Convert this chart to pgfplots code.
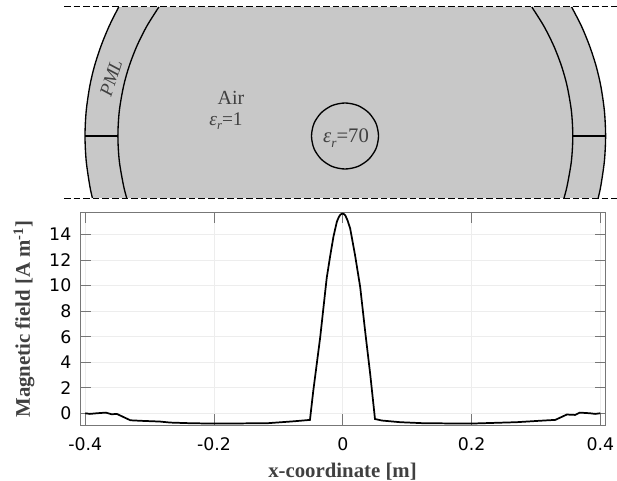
\documentclass[border=0pt]{standalone}
\usepackage{fontspec}
\setmainfont{Liberation Serif}
\newfontfamily\ticksfont{DejaVu Sans}
\usepackage{pgfplots}
\pgfplotsset{compat=1.18}
\definecolor{domain}{HTML}{C8C8C8}
\definecolor{labelgray}{HTML}{404040}
\definecolor{framegray}{HTML}{777777}
\definecolor{gridgray}{HTML}{EDEDED}
\begin{document}
\begin{tikzpicture}
% page size: 617x481 px at 0.75pt per px
\path[use as bounding box] (0pt,0pt) rectangle (462.75pt,360.75pt);
% schematic on top, in pixel coordinates of the page
\begin{axis}[
    at={(0pt,0pt)}, anchor=south west,
    scale only axis, width=462.75pt, height=360.75pt,
    xmin=0, xmax=617, ymin=0, ymax=481, y dir=reverse,
    axis lines=none, clip=false,
]
\addplot[fill=domain, draw=none] coordinates {
    (118.7,7) (109.2,26) (101,46) (94.5,66) (89.8,86) (86.2,111) (85,136) (86.2,161) (89.8,186) (92.4,198)
    (598.2,198) (600.8,186) (604.4,161) (605.6,136) (604.4,111) (600.8,86) (596.1,66) (589.6,46) (581.4,26) (571.6,7)
} -- cycle;
\addplot[black, line width=1pt, smooth] coordinates {
    (118.7,7) (109.2,26) (101,46) (94.5,66) (89.8,86) (86.2,111) (85,136) (86.2,161) (89.8,186) (92.4,198)};
\addplot[black, line width=1pt, smooth] coordinates {
    (158.9,7) (146.9,26) (136.9,46) (129.2,66) (123.6,86) (119.3,111) (117.9,136) (119.3,161) (123.6,186) (126.7,198)};
\addplot[black, line width=1pt, smooth] coordinates {
    (531.8,7) (543.8,26) (553.8,46) (561.5,66) (567.1,86) (571.4,111) (572.8,136) (571.4,161) (567.1,186) (564,198)};
\addplot[black, line width=1pt, smooth] coordinates {
    (571.6,7) (581.4,26) (589.6,46) (596.1,66) (600.8,86) (604.4,111) (605.6,136) (604.4,161) (600.8,186) (598.2,198)};
\addplot[black, line width=1pt] coordinates {(85,136) (117.9,136)};
\addplot[black, line width=1pt] coordinates {(572.8,136) (605.6,136)};
\addplot[black, line width=1pt, smooth cycle] coordinates {
    (378.5,136) (376,123.4) (368.7,112.7) (357.8,105.5) (345,103) (332.2,105.5) (321.3,112.7) (314,123.4)
    (311.5,136) (314,148.6) (321.3,159.3) (332.2,166.5) (345,169) (357.8,166.5) (368.7,159.3) (376,148.6)};
\addplot[black, line width=0.75pt, dash pattern=on 5pt off 2.2pt] coordinates {(64,7) (617,7)};
\addplot[black, line width=0.75pt, dash pattern=on 5pt off 2.2pt] coordinates {(64,198) (617,198)};
\node[labelgray, rotate=72, inner sep=0pt, font=\fontsize{14}{15}\selectfont\itshape] at (axis cs:111,78) {PML};
\node[labelgray, font=\fontsize{15}{16}\selectfont] at (axis cs:231,98) {Air};
\node[labelgray, font=\fontsize{14.5}{16}\selectfont] at (axis cs:226,121.5) {\textit{ε}\raisebox{-0.45ex}{\fontsize{9.5}{10}\selectfont\textit{r}}=1};
\node[labelgray, font=\fontsize{15.5}{16}\selectfont] at (axis cs:346,138) {\textit{ε}\raisebox{-0.45ex}{\fontsize{10}{10}\selectfont\textit{r}}=70};
% axis titles of the plot below
\node[labelgray, font=\fontsize{15.6}{18}\selectfont\bfseries] at (axis cs:342.5,471.5) {x-coordinate [m]};
\node[labelgray, rotate=90, font=\fontsize{15.6}{18}\selectfont\bfseries] at (axis cs:24,319) {Magnetic field [A m\textsuperscript{-1}]};
\end{axis}
% field profile
\begin{axis}[
    at={(60pt,42pt)}, anchor=south west,
    scale only axis, width=394.3pt, height=159.5pt,
    xmin=-0.4082, xmax=0.4084, ymin=-0.92, ymax=15.75,
    xtick={-0.4,-0.2,0,0.2,0.4},
    xticklabels={-0.4,-0.2,0,0.2,0.4},
    ytick={0,2,4,6,8,10,12,14},
    yticklabels={0,2,4,6,8,10,12,14},
    grid=major,
    grid style={gridgray, line width=0.6pt},
    axis line style={framegray, line width=0.7pt},
    major tick length=8pt,
    tick style={framegray, line width=0.6pt},
    tick align=inside,
    ticklabel style={font=\ticksfont\fontsize{13}{15}\selectfont},
    xticklabel style={yshift=-6pt},
    yticklabel style={xshift=-3pt},
]
\addplot[black, line width=1.3pt] coordinates {
    (-0.400,0) (-0.393,-0.05) (-0.382,0) (-0.368,0.05) (-0.359,-0.08) (-0.351,-0.05)
    (-0.330,-0.55) (-0.310,-0.60) (-0.284,-0.65) (-0.268,-0.73) (-0.237,-0.78) (-0.200,-0.81)
    (-0.117,-0.78) (-0.076,-0.63) (-0.051,-0.52)
    (-0.046,1.7) (-0.035,6.0) (-0.025,10.6) (-0.0197,12.3) (-0.0145,13.85) (-0.0093,15.0)
    (-0.0065,15.35) (-0.004,15.55) (-0.002,15.63) (0,15.65) (0.002,15.6) (0.004,15.5) (0.0075,15.1)
    (0.0114,14.5) (0.019,12.4) (0.027,9.9)
    (0.035,6.3) (0.0425,3.1) (0.050,-0.45) (0.0606,-0.57) (0.089,-0.70) (0.125,-0.78)
    (0.198,-0.81) (0.270,-0.70) (0.312,-0.57) (0.330,-0.52) (0.348,-0.10) (0.361,-0.13)
    (0.368,0.05) (0.384,0) (0.392,-0.05) (0.400,0)
};
\end{axis}
\end{tikzpicture}
\end{document}
